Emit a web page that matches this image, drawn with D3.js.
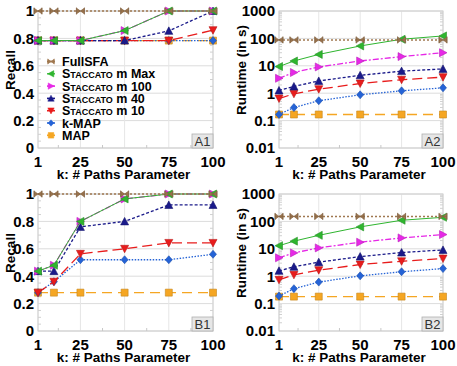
<!DOCTYPE html>
<html>
<head>
<meta charset="utf-8">
<script src="https://cdn.jsdelivr.net/npm/d3@7"></script>
<style>
  body { margin: 0; background: #fff; }
  text { font-family: "Liberation Sans", Arial, sans-serif; }
</style>
</head>
<body>
<div id="chart"></div>
<script>
const ks = [1, 10, 25, 50, 75, 100];
const xTicks = [1, 25, 50, 75, 100];
const xMinor = [12.5, 37.5, 62.5, 87.5];
const recallTicks = [0, 0.2, 0.4, 0.6, 0.8, 1];
const runtimeTicks = [0.01, 0.1, 1, 10, 100, 1000];
const seriesNames = ["FullSFA", "Staccato m Max", "Staccato m 100", "Staccato m 40", "Staccato m 10", "k-MAP", "MAP"];

// one row per series, same order as seriesNames
const recallA1 = [
  [1, 1, 1, 1, 1, 1],
  [0.784, 0.784, 0.784, 0.857, 1, 1],
  [0.784, 0.784, 0.784, 0.857, 1, 1],
  [0.784, 0.784, 0.784, 0.784, 0.855, 1],
  [0.784, 0.784, 0.784, 0.784, 0.784, 0.86],
  [0.784, 0.784, 0.784, 0.784, 0.784, 0.784],
  [0.784, 0.784, 0.784, 0.784, 0.784, 0.784]
];
const runtimeA2 = [
  [88, 88, 88, 88, 88, 88],
  [9.4, 15, 26, 53, 93, 123],
  [3.5, 5.7, 9.1, 15, 21.7, 30],
  [1.26, 1.76, 2.8, 4.5, 6.4, 7.7],
  [0.64, 0.95, 1.4, 2.26, 3.1, 3.85],
  [0.168, 0.3, 0.53, 0.875, 1.22, 1.57],
  [0.167, 0.167, 0.167, 0.167, 0.167, 0.167]
];
const recallB1 = [
  [1, 1, 1, 1, 1, 1],
  [0.437, 0.48, 0.8, 0.964, 1, 1],
  [0.437, 0.48, 0.8, 0.964, 1, 1],
  [0.437, 0.437, 0.76, 0.8, 0.92, 0.92],
  [0.28, 0.36, 0.563, 0.6, 0.643, 0.643],
  [0.28, 0.36, 0.52, 0.52, 0.52, 0.56],
  [0.28, 0.28, 0.28, 0.28, 0.28, 0.28]
];
const runtimeB2 = [
  [152, 152, 152, 152, 152, 152],
  [13, 19, 31, 63, 110, 141],
  [4.7, 7.1, 10.8, 17.4, 25, 33],
  [1.57, 2.2, 3.25, 5.2, 7.3, 9.1],
  [0.74, 1.12, 1.66, 2.67, 3.5, 4.4],
  [0.188, 0.35, 0.61, 1.03, 1.45, 1.9],
  [0.18, 0.18, 0.18, 0.18, 0.18, 0.18]
];

const styles = [
  { color: "#a07850", dash: "2,2", width: 1.5, marker: "bowtie" },
  { color: "#2fb52f", dash: null, width: 1, marker: "left" },
  { color: "#e628e6", dash: "6,2,2,2", width: 1.3, marker: "right" },
  { color: "#1a1a8a", dash: "3,2", width: 1.3, marker: "up" },
  { color: "#e81c1c", dash: "10,5", width: 1.3, marker: "down" },
  { color: "#2563d6", dash: "1.5,1.5", width: 1.3, marker: "diamond" },
  { color: "#f5a623", dash: "10,6", width: 1.3, marker: "square" }
];

const markerPaths = {
  bowtie: "M-4,-3L0,0L-4,3ZM4,-3L0,0L4,3ZM-4,-3.5V3.5M4,-3.5V3.5M-4,0H4",
  left: "M-4,0L3.5,-4L3.5,4Z",
  right: "M4,0L-3.5,-4L-3.5,4Z",
  up: "M0,-4L4,3.5L-4,3.5Z",
  down: "M0,4L4,-3.5L-4,-3.5Z",
  diamond: "M0,-4L3.5,0L0,4L-3.5,0Z",
  square: "M-3.5,-3.5H3.5V3.5H-3.5Z"
};

const width = 457, height = 366;
const svg = d3.select("#chart").append("svg")
  .attr("width", width)
  .attr("height", height);

const panels = [
  { data: recallA1, log: false, left: 38, right: 213, top: 11, bottom: 148, label: "A1", title: "Recall", legend: true },
  { data: runtimeA2, log: true, left: 279, right: 443, top: 11, bottom: 148, label: "A2", title: "Runtime (in s)" },
  { data: recallB1, log: false, left: 38, right: 213, top: 194, bottom: 331, label: "B1", title: "Recall" },
  { data: runtimeB2, log: true, left: 279, right: 443, top: 194, bottom: 331, label: "B2", title: "Runtime (in s)" }
];

function drawPanel(p) {
  const g = svg.append("g");
  const x = d3.scaleLinear().domain([1, 100]).range([p.left, p.right]);
  const y = p.log
    ? d3.scaleLog().domain([0.01, 1000]).range([p.bottom, p.top])
    : d3.scaleLinear().domain([0, 1]).range([p.bottom, p.top]);
  const yTicks = p.log ? runtimeTicks : recallTicks;

  // minor ticks on y
  let yMinor = [];
  if (p.log) {
    for (let e = -2; e < 3; e++) for (let m = 2; m < 10; m++) yMinor.push(m * Math.pow(10, e));
  } else {
    yMinor = d3.range(0, 1.0001, 0.05).filter(v => Math.abs(v * 5 - Math.round(v * 5)) > 1e-6);
  }

  // grid
  g.selectAll(".hgrid").data(yTicks).enter().append("line")
    .attr("x1", p.left).attr("x2", p.right)
    .attr("y1", d => y(d)).attr("y2", d => y(d))
    .attr("stroke", "#dcdcdc").attr("stroke-width", 1);
  g.selectAll(".vgrid").data(xTicks).enter().append("line")
    .attr("x1", d => x(d)).attr("x2", d => x(d))
    .attr("y1", p.top).attr("y2", p.bottom)
    .attr("stroke", "#e6e6e6").attr("stroke-width", 1);

  g.append("rect")
    .attr("x", p.left).attr("y", p.top)
    .attr("width", p.right - p.left).attr("height", p.bottom - p.top)
    .attr("fill", "none").attr("stroke", "#cfcfcf");

  g.selectAll(".ymin").data(yMinor).enter().append("line")
    .attr("x1", p.left).attr("x2", p.left + 3)
    .attr("y1", d => y(d)).attr("y2", d => y(d))
    .attr("stroke", "#d0d0d0");
  g.selectAll(".ymin2").data(yMinor).enter().append("line")
    .attr("x1", p.right - 3).attr("x2", p.right)
    .attr("y1", d => y(d)).attr("y2", d => y(d))
    .attr("stroke", "#d0d0d0");
  g.selectAll(".xmin").data(xMinor).enter().append("line")
    .attr("x1", d => x(d)).attr("x2", d => x(d))
    .attr("y1", p.bottom - 3).attr("y2", p.bottom)
    .attr("stroke", "#c8c8c8");

  // tick labels
  g.selectAll(".ylab").data(yTicks).enter().append("text")
    .attr("x", p.left - 4).attr("y", d => y(d)).attr("dy", "0.36em")
    .attr("text-anchor", "end")
    .style("font-size", "15px").style("font-weight", "bold")
    .text(d => String(d));
  g.selectAll(".xlab").data(xTicks).enter().append("text")
    .attr("x", d => x(d)).attr("y", p.bottom + 19)
    .attr("text-anchor", "middle")
    .style("font-size", "15px").style("font-weight", "bold")
    .text(d => d);

  g.append("text")
    .attr("x", (p.left + p.right) / 2 - 2).attr("y", p.bottom + 31)
    .attr("text-anchor", "middle")
    .style("font-size", "13.5px").style("font-weight", "bold")
    .text("k: # Paths Parameter");

  const tx = p.log ? p.left - 33 : p.left - 23;
  g.append("text")
    .attr("transform", `translate(${tx},${p.top + 59}) rotate(-90)`)
    .attr("text-anchor", "middle")
    .style("font-size", "13.5px").style("font-weight", "bold")
    .text(p.title);

  // series, last legend entry drawn first
  const line = d3.line().x((d, i) => x(ks[i])).y(d => y(d));
  for (let s = p.data.length - 1; s >= 0; s--) {
    const st = styles[s];
    g.append("path")
      .datum(p.data[s])
      .attr("d", line)
      .attr("fill", "none")
      .attr("stroke", st.color)
      .attr("stroke-width", st.width)
      .attr("stroke-dasharray", st.dash);
    g.selectAll(null).data(p.data[s]).enter().append("path")
      .attr("transform", (d, i) => `translate(${x(ks[i])},${y(d)})`)
      .attr("d", markerPaths[st.marker])
      .attr("fill", st.color)
      .attr("stroke", d3.color(st.color).darker(0.6))
      .attr("stroke-width", 0.6);
  }

  // panel label box
  g.append("rect")
    .attr("x", p.right - 21).attr("y", p.bottom - 14)
    .attr("width", 21).attr("height", 14)
    .attr("fill", "#e6e6e6").attr("stroke", "#b0b0b0").attr("stroke-width", 0.8);
  g.append("text")
    .attr("x", p.right - 10.5).attr("y", p.bottom - 2.5)
    .attr("text-anchor", "middle")
    .style("font-size", "13px").style("fill", "#333")
    .text(p.label);

  if (p.legend) drawLegend(g, p);
}

function drawLegend(g, p) {
  const lx = 51, ly0 = 61.5, step = 12.3;
  seriesNames.forEach((name, i) => {
    const st = styles[i];
    const cy = ly0 + i * step;
    g.append("line")
      .attr("x1", lx - 4).attr("x2", lx + 4)
      .attr("y1", cy).attr("y2", cy)
      .attr("stroke", st.color).attr("stroke-width", st.width + 0.3);
    g.append("path")
      .attr("transform", `translate(${lx},${cy}) scale(0.8)`)
      .attr("d", markerPaths[st.marker])
      .attr("fill", st.color)
      .attr("stroke", st.color).attr("stroke-width", 0.6);
    const t = g.append("text")
      .attr("x", lx + 11).attr("y", cy).attr("dy", "0.36em")
      .style("font-size", "12.5px").style("font-weight", "bold");
    if (name.startsWith("Staccato")) {
      t.append("tspan").text("S");
      t.append("tspan").style("font-variant", "small-caps").text("taccato");
      t.append("tspan").text(name.slice(8));
    } else {
      t.text(name);
    }
  });
}

panels.forEach(drawPanel);
</script>
</body>
</html>
